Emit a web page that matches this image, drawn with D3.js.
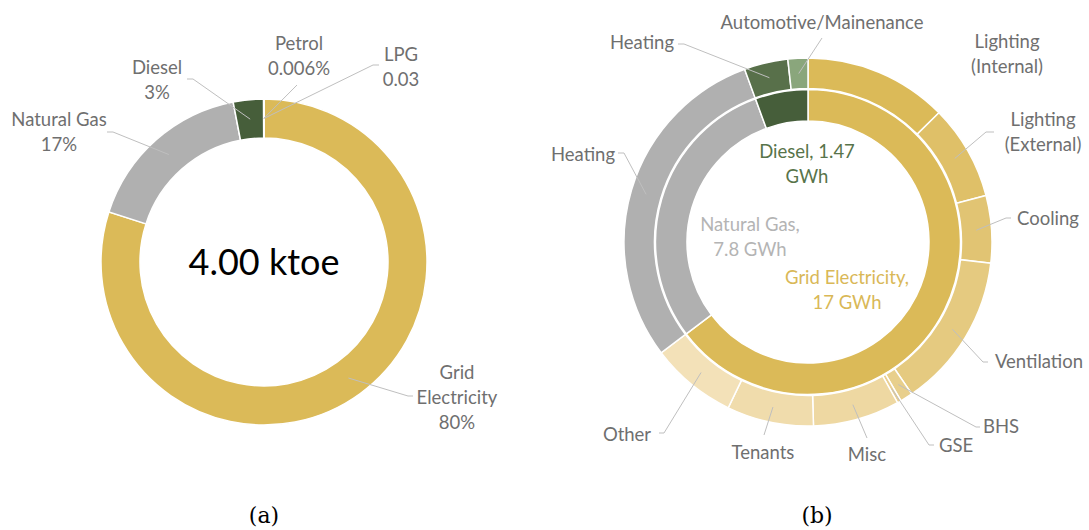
<!DOCTYPE html>
<html>
<head>
<meta charset="utf-8">
<script src="https://cdn.jsdelivr.net/npm/d3@7"></script>
<style>
    body { margin: 0; background: #fff; }
    svg text { font-family: Lato, "Open Sans", sans-serif; }
</style>
</head>
<body>
<svg id="chart" width="1089" height="530"></svg>
<script>
// (a) fuel mix, share of 4.00 ktoe (%)
var fuelNames = ['Grid Electricity', 'Natural Gas', 'Diesel', 'Petrol', 'LPG'];
var fuelShares = [80, 17, 3, 0.006, 0.03];
var fuelLabels = [['Grid', 'Electricity', '80%'], ['Natural Gas', '17%'], ['Diesel', '3%'], ['Petrol', '0.006%'], ['LPG', '0.03']];
var fuelTotal = '4.00 ktoe';

// (b) inner ring: energy source (GWh)
var sourceNames = ['Grid Electricity', 'Natural Gas', 'Diesel'];
var sourceGWh = [17, 7.8, 1.47];
var sourceLabels = [['Grid Electricity,', '17 GWh'], ['Natural Gas,', '7.8 GWh'], ['Diesel, 1.47', 'GWh']];

// (b) outer ring: end use (GWh)
var useNames = ['Lighting (Internal)', 'Lighting (External)', 'Cooling', 'Ventilation', 'BHS', 'GSE',
    'Misc', 'Tenants', 'Other', 'Heating', 'Heating', 'Automotive/Mainenance'];
var useGWh = [3.31, 2.19, 1.55, 3.58, 0.29, 0.09, 2.0, 2.0, 1.99, 7.8, 1.01, 0.46];
var useLabels = [['Lighting', '(Internal)'], ['Lighting', '(External)'], ['Cooling'], ['Ventilation'], ['BHS'], ['GSE'],
    ['Misc'], ['Tenants'], ['Other'], ['Heating'], ['Heating'], ['Automotive/Mainenance']];

var captions = ['(a)', '(b)'];

// ---- styles / layout ----
var fuelColors = ['#dbba58', '#b0b0b0', '#465e3a', '#6b8a5a', '#9ab58a'];
var sourceColors = ['#dbba58', '#b0b0b0', '#465e3a'];
var sourceTextColors = ['#d9b857', '#b4b4b4', '#58744a'];
var useColors = ['#dbba58', '#dfc068', '#e1c473', '#e5ca80', '#e8cf8c', '#eacf91',
    '#eed8a2', '#f0dcac', '#f3e1b8', '#b0b0b0', '#58704a', '#8aa67c'];

var labelColor = '#6f6f6f',
    leaderColor = '#bfbfbf',
    labelSize = 18.5,
    lineH = 25;

var centerA = [264, 262],
    centerB = [808, 242];

// label anchor (first line centre), leader elbow and end, page coords
var fuelPos = [
    { x: 457, y: 373, elbow: [408, 396], end: [413, 396] },
    { x: 59, y: 120, elbow: [113, 132], end: [107, 132] },
    { x: 157, y: 68, elbow: [193, 79], end: [187, 79] },
    { x: 299, y: 44, elbow: [297, 85], end: [297, 85] },
    { x: 401, y: 55, elbow: [373, 65], end: [379, 65] }
];
var sourcePos = [
    { x: 847, y: 278 },
    { x: 750, y: 225 },
    { x: 807, y: 152 }
];
var usePos = [
    { x: 1007, y: 42 },
    { x: 1043, y: 120, elbow: [986, 132], end: [994, 132] },
    { x: 1048, y: 219, elbow: [1006, 218], end: [1011, 218] },
    { x: 1039, y: 362, elbow: [983, 362], end: [988, 362] },
    { x: 1001, y: 427, elbow: [976, 427], end: [980, 427] },
    { x: 956, y: 446, elbow: [929, 445], end: [934, 445] },
    { x: 867, y: 455, elbow: [867, 438], end: [867, 438] },
    { x: 763, y: 453, elbow: [764, 435], end: [764, 435] },
    { x: 627, y: 435, elbow: [664, 433], end: [659, 433] },
    { x: 583, y: 155, elbow: [624, 153], end: [618, 153] },
    { x: 642, y: 43, elbow: [684, 44], end: [678, 44] },
    { x: 822, y: 23, elbow: [822, 38], end: [822, 38] }
];

var svg = d3.select('#chart');

var pie = d3.pie()
    .sort(null)
    .value(function(d) { return d; });

function drawRing(center, values, colors, arc) {
    var g = svg.append('g')
        .attr('transform', 'translate(' + center[0] + ',' + center[1] + ')');
    g.selectAll('path')
        .data(pie(values))
        .enter().append('path')
            .attr('d', arc)
            .style('fill', function(d, i) { return colors[i]; })
            .style('stroke', '#fff')
            .style('stroke-width', 1.5);
}

function drawLeaders(center, values, pos, arc) {
    var line = d3.line();
    svg.append('g')
        .selectAll('path')
        .data(pie(values))
        .enter().append('path')
            .filter(function(d, i) { return pos[i].elbow; })
            .attr('d', function(d) {
                var c = arc.centroid(d);
                var p = pos[d.index];
                return line([[center[0] + c[0], center[1] + c[1]], p.elbow, p.end]);
            })
            .style('fill', 'none')
            .style('stroke', leaderColor)
            .style('stroke-width', 1);
}

function drawLabels(labels, pos, color, size) {
    var t = svg.append('g')
        .selectAll('text')
        .data(labels)
        .enter().append('text')
            .attr('text-anchor', 'middle')
            .style('font-size', size + 'px')
            .style('fill', function(d, i) { return typeof color == 'string' ? color : color[i]; });
    t.each(function(lines, i) {
        var el = d3.select(this);
        lines.forEach(function(s, k) {
            el.append('tspan')
                .attr('x', pos[i].x)
                .attr('y', pos[i].y + k * lineH)
                .attr('dy', '0.35em')
                .text(s);
        });
    });
}

// ---- (a) ----
var arcA = d3.arc().innerRadius(124).outerRadius(163);
drawRing(centerA, fuelShares, fuelColors, arcA);
drawLeaders(centerA, fuelShares, fuelPos, arcA);
drawLabels(fuelLabels, fuelPos, labelColor, labelSize);

svg.append('text')
    .attr('x', centerA[0])
    .attr('y', centerA[1])
    .attr('dy', '0.35em')
    .attr('text-anchor', 'middle')
    .style('font-size', '36px')
    .style('fill', '#000')
    .text(fuelTotal);

// ---- (b) ----
var arcInner = d3.arc().innerRadius(121).outerRadius(152.5);
var arcOuter = d3.arc().innerRadius(153.5).outerRadius(184);
drawRing(centerB, sourceGWh, sourceColors, arcInner);
drawRing(centerB, useGWh, useColors, arcOuter);
drawLeaders(centerB, useGWh, usePos, arcOuter);
drawLabels(useLabels, usePos, labelColor, labelSize);
drawLabels(sourceLabels, sourcePos, sourceTextColors, labelSize);

// captions
svg.selectAll('.caption')
    .data(captions)
    .enter().append('text')
        .attr('class', 'caption')
        .attr('x', function(d, i) { return i == 0 ? centerA[0] : 817; })
        .attr('y', 515)
        .attr('dy', '0.35em')
        .attr('text-anchor', 'middle')
        .style('font-family', '"DejaVu Serif", "Liberation Serif", serif')
        .style('font-size', '22px')
        .style('fill', '#000')
        .text(function(d) { return d; });
</script>
</body>
</html>
